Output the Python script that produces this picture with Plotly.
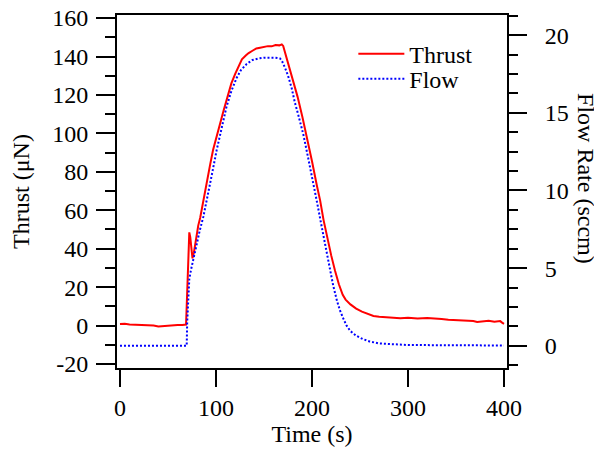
import plotly.graph_objects as go

# Thrust trace (time in s, thrust in uN)
thrust_t = [0, 5, 10, 15, 20, 25, 30, 35, 40, 45, 50, 55, 60, 65, 68.8,
            69.5, 70.5, 71.5, 72.2, 73.2, 74.5, 75.5, 77, 79, 81.5, 83.5, 86,
            90, 94, 97, 100, 104, 108, 112, 116, 120, 124, 127, 131, 134, 138,
            142, 146, 150, 154, 158, 162, 166, 168.5, 170, 172, 174, 177, 180.5,
            185, 190, 194.5, 200, 205, 208.5, 212, 216, 220, 224, 228, 232, 235,
            240, 246, 252, 258, 264, 270, 278, 285, 292, 300, 310, 320, 326, 335,
            342, 347, 355, 362, 368, 372, 378, 384, 390, 396, 398, 400]
thrust = [0.8, 0.9, 0.6, 0.5, 0.3, 0.4, 0.2, 0.0, -0.5, -0.2, 0.0, 0.2, 0.3, 0.3, 0.5,
          10, 24, 40, 48.5, 46, 38, 35, 38, 45, 52, 56, 63,
          73, 84, 91.5, 97.5, 105, 112, 119, 126, 131, 135.5, 138.5, 140.5, 141.8, 143,
          144.2, 144.6, 145.0, 145.4, 145.3, 146.0, 145.8, 146.3, 145.5, 142, 138, 133, 127.5,
          119, 108.5, 98.5, 85.5, 73, 65, 55, 45, 36.5, 28.5, 21.5, 16, 13.5,
          11, 8.8, 7.2, 6.0, 5.0, 4.6, 4.3, 4.0, 3.8, 4.0, 3.7, 3.9, 3.8, 3.4,
          3.0, 2.9, 2.7, 2.3, 2.4, 1.9, 2.2, 2.5, 2.0, 2.3, 1.5, 0.9]

# Flow trace (time in s, flow in sccm)
flow_t = [0, 30, 60, 68, 69.5, 70, 71, 72.2, 74, 76, 78, 80, 83, 86.8, 90, 95,
          100.7, 106, 111, 116, 121.5, 126, 132, 138, 144, 150, 156, 162, 166.7,
          169, 171.9, 175, 178.8, 182, 186, 191, 196, 201.4, 206, 210, 214, 218,
          222, 226, 229, 233, 236, 240, 246, 253, 260, 270, 285, 300, 330, 360, 400]
flow = [0, 0, 0.02, 0, 0, 1.5, 3.0, 4.3, 4.9, 5.5, 6.1, 6.65, 7.4, 8.3, 9.2, 10.8,
        12.6, 14.1, 15.4, 16.4, 17.25, 17.75, 18.15, 18.4, 18.5, 18.55, 18.55, 18.55, 18.5,
        18.3, 17.9, 17.4, 16.6, 15.7, 14.8, 13.6, 12.1, 10.5, 9.0, 7.7, 6.4, 5.1,
        3.9, 2.9, 2.3, 1.7, 1.3, 0.95, 0.65, 0.43, 0.28, 0.15, 0.08, 0.05, 0.04, 0.03, 0.02]

# tick labels (plain hyphen for the negative one, like the original)
thrust_ticks = [-20, 0, 20, 40, 60, 80, 100, 120, 140, 160]
thrust_ticktext = ["-20", "0", "20", "40", "60", "80", "100", "120", "140", "160"]

FONT = "Liberation Serif"

fig = go.Figure()
fig.add_trace(go.Scatter(x=thrust_t, y=thrust, mode="lines", name="Thrust",
                         legend="legend",
                         line=dict(color="rgb(255,0,0)", width=2)))
fig.add_trace(go.Scatter(x=flow_t, y=flow, mode="lines", name="Flow", yaxis="y2",
                         legend="legend2",
                         line=dict(color="rgb(0,0,255)", width=2, dash="2px,2px")))

# the page has an 8px body margin, so the figure is 8px smaller and margins shifted
leg = dict(xanchor="left", yanchor="top", bgcolor="rgba(0,0,0,0)",
           font=dict(size=24), itemwidth=46)
title_font = dict(family=FONT, size=24, color="black")

fig.update_layout(
    width=594, height=445,
    paper_bgcolor="white", plot_bgcolor="white",
    margin=dict(l=109, r=95, t=7, b=85, autoexpand=False),
    font=dict(family=FONT, size=24, color="black"),
    showlegend=True,
    legend=dict(x=0.606, y=0.953, **leg),
    legend2=dict(x=0.606, y=0.882, **leg),
    xaxis=dict(range=[-3.1, 403.1], tickvals=[0, 100, 200, 300, 400], automargin=False,
               showgrid=False, zeroline=False, showline=True, linecolor="black",
               linewidth=2, mirror=True, ticks="outside", ticklen=17, tickwidth=2,
               tickcolor="black", ticklabelstandoff=0, ticklabeloverflow="allow",
               title=dict(text="Time (s)", standoff=2, font=title_font)),
    yaxis=dict(range=[-22.1, 161.6], tickvals=thrust_ticks, ticktext=thrust_ticktext,
               automargin=False,
               showgrid=False, zeroline=False, showline=True, linecolor="black",
               linewidth=2, ticks="outside", ticklen=19, tickwidth=2, tickcolor="black",
               minor=dict(dtick=10, tick0=0, ticks="outside", ticklen=10, tickwidth=2,
                          tickcolor="black"),
               ticklabelstandoff=3, ticklabeloverflow="allow",
               title=dict(text="Thrust (μN)", standoff=18, font=title_font)),
    yaxis2=dict(range=[-1.43, 21.3], dtick=5, tick0=0, overlaying="y", side="right",
                automargin=False,
                showgrid=False, zeroline=False, showline=True, linecolor="black",
                linewidth=2, ticks="outside", ticklen=18, tickwidth=2, tickcolor="black",
                minor=dict(dtick=1.25, tick0=0, ticks="outside", ticklen=9, tickwidth=2,
                           tickcolor="black"),
                ticklabelstandoff=13, ticklabeloverflow="allow"),
    annotations=[dict(text="Flow Rate (sccm)", textangle=90, x=(578 - 109) / 390,
                      xref="paper", xanchor="center", y=0.538, yref="paper",
                      showarrow=False, font=dict(size=24))],
)

fig.write_html("out.html")
